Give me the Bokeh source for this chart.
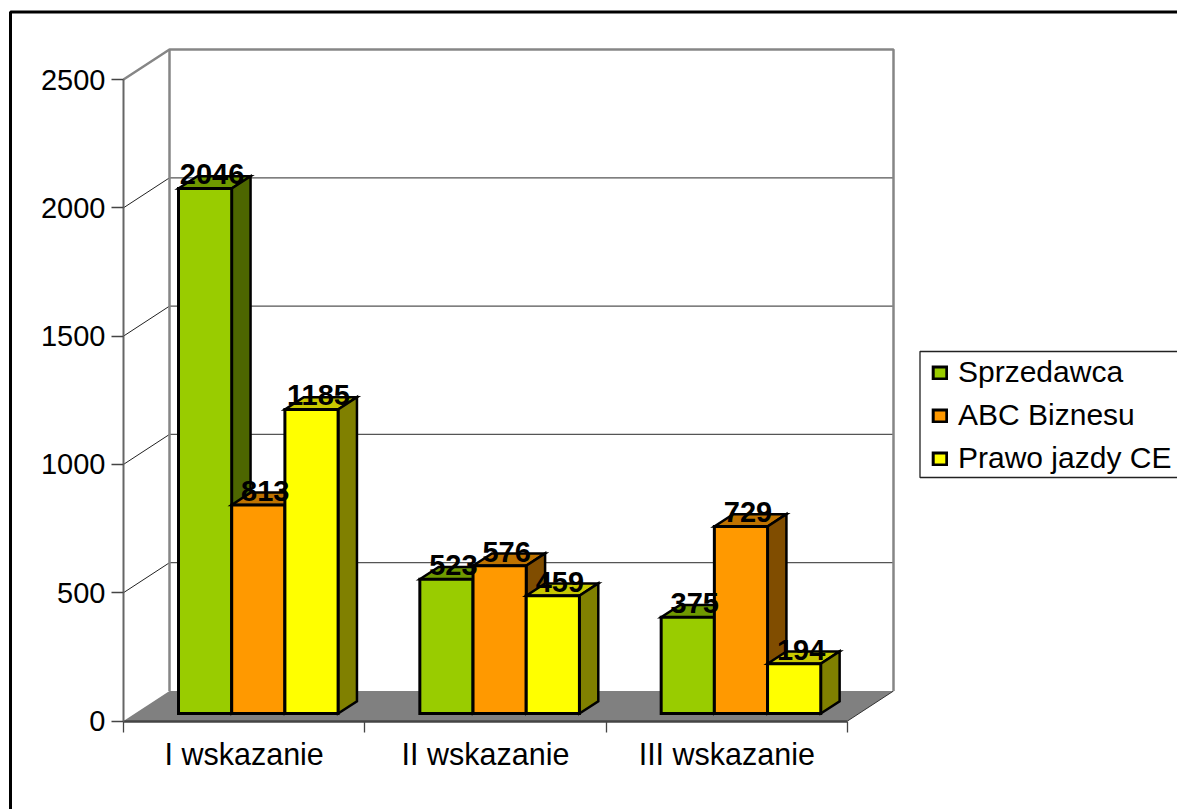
from bokeh.plotting import figure
from bokeh.models import LinearAxis, FixedTicker, Legend, LegendItem, Range1d
from bokeh.core.properties import value
from bokeh.embed import file_html
from bokeh.resources import INLINE

categories = ["I wskazanie", "II wskazanie", "III wskazanie"]
series_names = ["Sprzedawca", "ABC Biznesu", "Prawo jazdy CE"]
sprzedawca = [2046, 523, 375]
abc_biznesu = [813, 576, 729]
prawo_jazdy = [1185, 459, 194]
y_ticks = [0, 500, 1000, 1500, 2000, 2500]
front_colors = ["#99CC00", "#FF9900", "#FFFF00"]
top_colors = ["#6F9900", "#BF7300", "#C8C800"]
side_colors = ["#4D6600", "#804D00", "#808000"]

series = [sprzedawca, abc_biznesu, prawo_jazdy]
W, H = 1177, 809
FONT = "Liberation Sans"

# page-pixel calibration of the plot's front plane
X0, X3 = 123.0, 847.0
Y0, Y2500 = 720.5, 79.0
ux = (X3 - X0) / 3
uy = (Y0 - Y2500) / 2500
def dx(px): return (px - X0) / ux
def dy(px): return (Y0 - px) / uy

DEPTH_X = 46 / ux
DEPTH_Y = 30 / uy
BAR_START = 43.5 / ux
BAR_W = 53.2 / ux
BAR_Z0 = 0.25
BAR_Z = 0.41

p = figure(width=W, height=H, output_backend="svg", toolbar_location=None,
           x_range=Range1d(dx(0), dx(W)), y_range=Range1d(dy(H), dy(0)),
           min_border=0, outline_line_color=None, x_axis_location=None, y_axis_location=None)
p.grid.visible = False

# outer chart border (top and left only are within the window)
p.line([dx(10), dx(10), dx(1180)], [dy(815), dy(11.5), dy(11.5)], line_color="black", line_width=3)

# floor
p.patch([0, 3, 3 + DEPTH_X, DEPTH_X], [0, 0, DEPTH_Y, DEPTH_Y], fill_color="#808080", line_color=None)
p.line([3, 3 + DEPTH_X], [0, DEPTH_Y], line_color="#333333", line_width=1)

# back wall gridlines and side wall diagonals
inner = y_ticks[1:-1]
p.segment([DEPTH_X] * len(inner), [v + DEPTH_Y for v in inner], [3 + DEPTH_X] * len(inner),
          [v + DEPTH_Y for v in inner], line_color="#555555", line_width=1.3)
p.segment([0] * len(inner), inner, [DEPTH_X] * len(inner), [v + DEPTH_Y for v in inner],
          line_color="#222222", line_width=1)
top = y_ticks[-1]
p.line([0, DEPTH_X, 3 + DEPTH_X, 3 + DEPTH_X],
       [top, top + DEPTH_Y, top + DEPTH_Y, DEPTH_Y], line_color="#868686", line_width=2.5)
p.line([DEPTH_X, DEPTH_X], [DEPTH_Y, top + DEPTH_Y], line_color="#868686", line_width=2.5)

# axes
yax = LinearAxis(fixed_location=0, ticker=FixedTicker(ticks=y_ticks), bounds=(y_ticks[0], y_ticks[-1]))
yax.axis_line_color = "#666666"; yax.axis_line_width = 2
yax.major_tick_in = 0; yax.major_tick_out = 12; yax.major_tick_line_color = "#444444"; yax.major_tick_line_width = 1.3
yax.minor_tick_line_color = None
yax.major_label_text_font = FONT; yax.major_label_text_font_size = "29px"; yax.major_label_text_color = "black"
yax.major_label_standoff = 6
p.add_layout(yax, "left")

cat_pos = [i + 0.5 for i in range(len(categories))]
xax = LinearAxis(fixed_location=0, bounds=(0, len(categories)),
                 ticker=FixedTicker(ticks=cat_pos, minor_ticks=list(range(len(categories) + 1))),
                 major_label_overrides={c: t for c, t in zip(cat_pos, categories)})
xax.axis_line_color = "#444444"; xax.axis_line_width = 2.5
xax.major_tick_in = 0; xax.major_tick_out = 0
xax.minor_tick_in = 0; xax.minor_tick_out = 11; xax.minor_tick_line_color = "#444444"; xax.minor_tick_line_width = 1.3
xax.major_label_text_font = FONT; xax.major_label_text_font_size = "30.5px"; xax.major_label_text_color = "black"
xax.major_label_standoff = 5
p.add_layout(xax, "below")

# legend box
p.quad(left=[dx(919.5)], right=[dx(1180)], top=[dy(351)], bottom=[dy(477)],
       fill_color="white", line_color="#222222", line_width=1.3)

# bars, painted left to right
off_x = BAR_Z0 * DEPTH_X
off_y = BAR_Z0 * DEPTH_Y
dep_x = BAR_Z * DEPTH_X
dep_y = BAR_Z * DEPTH_Y
label_x, label_y, label_t = [], [], []
front_refs = [None, None, None]
for g in range(len(categories)):
    for s, vals in enumerate(series):
        v = vals[g]
        x0 = g + BAR_START + s * BAR_W + off_x
        x1 = x0 + BAR_W
        b = off_y
        t = v + off_y
        p.patch([x0, x1, x1 + dep_x, x0 + dep_x], [t, t, t + dep_y, t + dep_y],
                fill_color=top_colors[s], line_color="black", line_width=2.5, line_join="miter")
        p.patch([x1, x1 + dep_x, x1 + dep_x, x1], [b, b + dep_y, t + dep_y, t],
                fill_color=side_colors[s], line_color="black", line_width=2.5, line_join="miter")
        r = p.quad(left=[x0], right=[x1], bottom=[b], top=[t],
                   fill_color=front_colors[s], line_color="black", line_width=3, line_join="miter")
        if front_refs[s] is None:
            front_refs[s] = r
        label_x.append((x0 + x1) / 2 + 7 / ux)
        label_y.append(t + 14 / uy)
        label_t.append(str(v))

p.text(label_x, label_y, text=label_t, text_font=value(FONT), text_font_style="bold",
       text_font_size="29px", text_color="black", text_align="center", text_baseline="middle")

legend = Legend(items=[LegendItem(label=n, renderers=[r]) for n, r in zip(series_names, front_refs)],
                location=(931, 809 - 475), orientation="vertical", margin=0, padding=0, spacing=9,
                glyph_width=17, glyph_height=15, label_standoff=10,
                label_text_font=FONT, label_text_font_size="30px", label_text_color="black",
                border_line_color=None, background_fill_alpha=0, click_policy="none")
p.add_layout(legend, "center")

open("out.html", "w").write(file_html(p, INLINE))
